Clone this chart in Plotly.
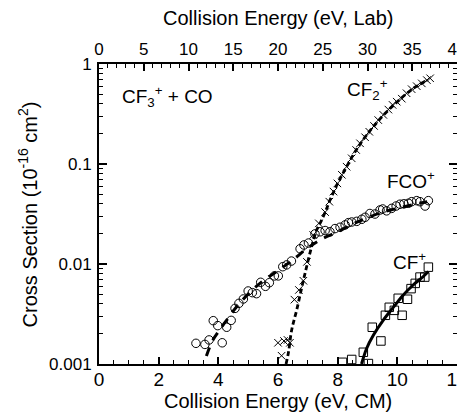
import plotly.graph_objects as go

# ---------------- data ----------------
fco_E = [3.25, 3.55, 3.69, 3.83, 3.98, 4.13, 4.28, 4.43, 4.56, 4.69, 4.84, 5.00, 5.14, 5.28,
         5.42, 5.58, 5.71, 5.88, 6.01, 6.16, 6.29, 6.45, 6.74, 6.87, 7.02, 7.24, 7.41, 7.58,
         7.74, 7.91, 8.08, 8.25, 8.36, 8.47, 8.64, 8.81, 8.92, 9.08, 9.25, 9.42, 9.51, 9.64,
         9.81, 9.96, 10.09, 10.22, 10.37, 10.48, 10.65, 10.76, 10.93, 11.04]
fco_S = [0.00161, 0.00157, 0.00174, 0.00271, 0.00242, 0.00163, 0.00233, 0.00273, 0.0036, 0.00404,
         0.00447, 0.00537, 0.00517, 0.00505, 0.00656, 0.00598, 0.0065, 0.0076, 0.0076, 0.0094,
         0.0098, 0.0107, 0.0142, 0.0155, 0.0162, 0.020, 0.021, 0.0216, 0.021, 0.0226, 0.0233,
         0.0246, 0.0259, 0.0263, 0.0267, 0.028, 0.0293, 0.032, 0.0316, 0.0347, 0.0355, 0.034,
         0.036, 0.038, 0.0396, 0.040, 0.0405, 0.042, 0.043, 0.042, 0.038, 0.043]

cf2_E = [6.00, 6.12, 6.20, 6.32, 6.40, 6.55, 6.70, 6.85, 6.97, 7.18, 7.37, 7.58, 7.72, 7.86,
         7.99, 8.14, 8.30, 8.47, 8.62, 8.75, 8.92, 9.06, 9.22, 9.36, 9.53, 9.70, 9.84, 9.98,
         10.15, 10.31, 10.48, 10.65, 10.82, 10.99, 11.10]
cf2_S = [0.00163, 0.00121, 0.0017, 0.00174, 0.00163, 0.0044, 0.0055, 0.0068, 0.0105, 0.0195,
         0.0255, 0.033, 0.042, 0.053, 0.064, 0.078, 0.094, 0.114, 0.138, 0.161, 0.185, 0.21,
         0.24, 0.275, 0.31, 0.35, 0.39, 0.42, 0.45, 0.51, 0.56, 0.60, 0.64, 0.69, 0.72]

cf_E = [8.16, 8.47, 8.86, 9.03, 9.16, 9.45, 9.60, 9.73, 9.90, 10.03, 10.16, 10.34, 10.46,
        10.60, 10.76, 10.92, 11.04]
cf_S = [0.00104, 0.00111, 0.00131, 0.00101, 0.00233, 0.0017, 0.00307, 0.00369, 0.00344,
        0.00454, 0.00307, 0.00444, 0.00567, 0.0064, 0.0074, 0.0074, 0.0093]

# fitted curves
fco_fit_E = [3.6, 3.8, 4.0, 4.3, 4.6, 5.0, 5.5, 6.0, 6.5, 7.0, 7.5, 8.0, 8.5, 9.0, 9.5, 10.0, 10.5, 11.0]
fco_fit_S = [0.0012, 0.0017, 0.0021, 0.0028, 0.0037, 0.0050, 0.0068, 0.0086, 0.0110, 0.0145,
             0.0180, 0.0210, 0.0250, 0.0290, 0.0330, 0.0360, 0.0390, 0.0420]

cf2_fit_E = [6.27, 6.35, 6.46, 6.63, 6.80, 6.96, 7.13, 7.30, 7.45, 7.60, 7.75, 8.0, 8.3, 8.6,
             9.0, 9.5, 10.0, 10.5, 11.0]
cf2_fit_S = [0.0010, 0.0013, 0.0022, 0.0035, 0.0059, 0.0094, 0.0150, 0.0220, 0.0270, 0.0340,
             0.0440, 0.064, 0.094, 0.135, 0.20, 0.30, 0.42, 0.56, 0.69]

cf_fit_E = [8.80, 8.97, 9.20, 9.53, 9.87, 10.20, 10.54, 10.87, 11.04]
cf_fit_S = [0.0010, 0.00143, 0.00195, 0.00275, 0.0037, 0.0049, 0.0062, 0.0075, 0.0084]

x_cm_ticks = [0, 2, 4, 6, 8, 10, 12]
x_lab_ticks = [0, 5, 10, 15, 20, 25, 30, 35, 40]
y_ticks = [0.001, 0.01, 0.1, 1]
y_tick_text = ["0.001", "0.01", "0.1", "1"]
y_minor = [m * d for d in (0.001, 0.01, 0.1) for m in range(2, 10)]

FONT = "Arial, Liberation Sans, Helvetica, sans-serif"

fig = go.Figure()

fig.add_trace(go.Scatter(x=fco_fit_E, y=fco_fit_S, mode="lines", line_shape="spline",
                         line=dict(color="black", width=3, dash="9px,8px"), showlegend=False))
fig.add_trace(go.Scatter(x=cf2_fit_E, y=cf2_fit_S, mode="lines", line_shape="spline",
                         line=dict(color="black", width=2.8, dash="5px,3px"), showlegend=False))
fig.add_trace(go.Scatter(x=cf_fit_E, y=cf_fit_S, mode="lines", line_shape="spline",
                         line=dict(color="black", width=3), showlegend=False))

fig.add_trace(go.Scatter(x=fco_E, y=fco_S, mode="markers",
                         marker=dict(symbol="circle-open", size=8.5, color="black", line=dict(width=1)),
                         showlegend=False))
fig.add_trace(go.Scatter(x=cf2_E, y=cf2_S, mode="markers",
                         marker=dict(symbol="x-thin-open", size=7.5, color="black", line=dict(width=1)),
                         showlegend=False))
fig.add_trace(go.Scatter(x=cf_E, y=cf_S, mode="markers",
                         marker=dict(symbol="square-open", size=8.5, color="black", line=dict(width=1)),
                         showlegend=False))

# dummy traces to activate the secondary axes
fig.add_trace(go.Scatter(x=[None], y=[None], xaxis="x2", yaxis="y", showlegend=False, hoverinfo="skip"))
fig.add_trace(go.Scatter(x=[None], y=[None], xaxis="x", yaxis="y2", showlegend=False, hoverinfo="skip"))

axis_common = dict(showline=True, linecolor="black", linewidth=2, ticks="inside",
                   tickcolor="black", tickwidth=1.5, showgrid=False, zeroline=False,
                   automargin=False, ticklabeloverflow="allow")
minor_common = dict(ticks="inside", ticklen=4, tickcolor="black", tickwidth=1.2, showgrid=False)

# the page body adds an 8 px offset, so the figure is 457 x 404 with margins reduced by 8
fig.update_layout(
    width=457, height=404,
    margin=dict(l=91, r=8, t=56, b=48),
    paper_bgcolor="white", plot_bgcolor="white",
    font=dict(family=FONT, color="black"),
    xaxis=dict(range=[0, 12], tickvals=x_cm_ticks, ticklen=7,
               minor=dict(dtick=0.5, **minor_common), ticklabelstandoff=-3,
               tickfont=dict(size=19), **axis_common),
    xaxis2=dict(range=[0, 40], overlaying="x", side="top", tickvals=x_lab_ticks, ticklen=7,
                minor=dict(dtick=1, **minor_common),
                tickfont=dict(size=17), **axis_common),
    yaxis=dict(type="log", range=[-3, 0], tickvals=y_ticks, ticktext=y_tick_text, ticklen=8,
               minor=dict(tickvals=y_minor, **minor_common), ticklabelstandoff=2,
               tickfont=dict(size=17), **axis_common),
    yaxis2=dict(type="log", range=[-3, 0], overlaying="y", side="right", tickvals=y_ticks, ticklen=8,
                showticklabels=False,
                minor=dict(tickvals=y_minor, **minor_common), **axis_common),
)

title_font = dict(family=FONT, size=20, color="black")
fig.add_annotation(x=0.5, y=-0.123, xref="paper", yref="paper", text="Collision Energy (eV, CM)",
                   showarrow=False, xanchor="center", yanchor="middle", font=title_font)
fig.add_annotation(x=0.5, y=1.153, xref="paper", yref="paper", text="Collision Energy (eV, Lab)",
                   showarrow=False, xanchor="center", yanchor="middle", font=title_font)
fig.add_annotation(x=-0.2, y=0.5, xref="paper", yref="paper",
                   text="Cross Section (10<sup>-16</sup> cm<sup>2</sup>)", textangle=-90,
                   showarrow=False, xanchor="center", yanchor="middle", font=title_font)

ann_font = dict(family=FONT, size=19, color="black")
fig.add_annotation(x=0.7, y=-0.32, xref="x", yref="y", text="CF<sub>3</sub><sup>+</sup> + CO",
                   showarrow=False, xanchor="left", yanchor="middle", font=ann_font)
fig.add_annotation(x=8.25, y=-0.25, xref="x", yref="y", text="CF<sub>2</sub><sup>+</sup>",
                   showarrow=False, xanchor="left", yanchor="middle", font=ann_font)
fig.add_annotation(x=9.6, y=-1.16, xref="x", yref="y", text="FCO<sup>+</sup>",
                   showarrow=False, xanchor="left", yanchor="middle", font=ann_font)
fig.add_annotation(x=9.8, y=-1.97, xref="x", yref="y", text="CF<sup>+</sup>",
                   showarrow=False, xanchor="left", yanchor="middle", font=ann_font)

fig.write_html("out.html")
